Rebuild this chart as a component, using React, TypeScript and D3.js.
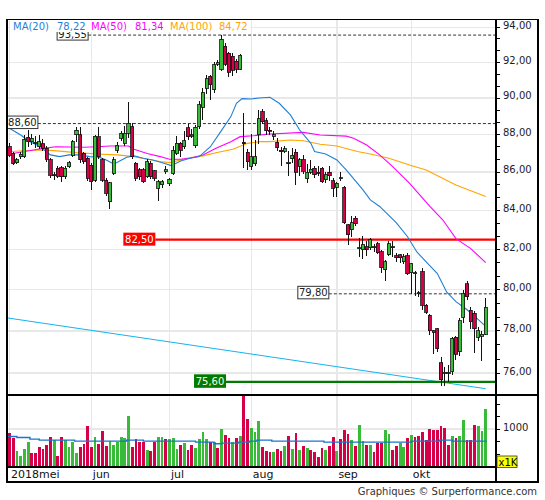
import React from "react";
import * as d3 from "d3";

// ---------- DATA ----------
const opens = [
  87.35, 86.99, 86.5, 86.8, 86.81, 87.85, 87.62, 87.55, 87.35, 87.5,
  87.26, 86.64, 85.86, 86.2, 86.24, 85.76, 86.29, 86.9, 87.98, 87.98,
  86.99, 86.73, 86.37, 85.58, 87.89, 86.64, 85.58, 84.45, 85.93, 87.17,
  87.8, 87.53, 88.07, 88.43, 86.46, 86.11, 86.11, 85.76, 86.46, 86.06,
  85.15, 85.32, 86.02, 85.41, 85.93, 86.99, 87.53, 87.35, 88.38, 88.0,
  87.4, 88.43, 89.5, 90.55, 91.2, 90.46, 91.93, 91.6, 92.9, 92.5,
  92.35, 92.05, 91.6, 87.6, 87.05, 86.3, 86.45, 88.0, 89.25, 88.75,
  88.25, 87.9, 87.6, 87.15, 87.1, 86.5, 86.7, 87.05, 86.3, 86.65,
  85.65, 86.0, 86.2, 86.0, 86.2, 85.6, 86.0, 85.55, 85.2, 85.65,
  85.2, 83.25, 83.0, 83.6, 82.05, 82.0, 82.15, 82.1, 82.1, 82.3,
  81.9, 81.0, 81.75, 82.15, 81.7, 81.75, 81.4, 81.7, 80.85, 80.8,
  79.85, 80.9, 79.25, 78.75, 78.0, 78.1, 76.5, 76.0, 76.0, 76.1,
  77.7, 77.0, 78.65, 80.3, 79.0, 78.85, 77.7, 77.75, 77.85,
];
const highs = [
  87.53, 87.08, 86.73, 87.05, 88.0, 88.25, 88.05, 87.9, 88.0, 87.75,
  87.4, 86.75, 86.02, 86.3, 86.3, 86.3, 86.6, 87.7, 88.43, 88.43,
  87.05, 86.81, 86.46, 88.0, 88.43, 86.75, 85.7, 85.5, 86.8, 87.6,
  88.2, 88.45, 89.8, 88.62, 86.55, 86.2, 86.2, 86.7, 86.6, 86.1,
  85.6, 85.6, 86.3, 85.7, 87.4, 87.9, 87.6, 88.2, 88.6, 88.3,
  88.5, 89.85, 90.55, 91.3, 91.3, 92.0, 92.15, 93.55, 93.1, 92.6,
  92.5, 92.2, 92.45, 89.2, 87.25, 88.05, 87.7, 89.35, 89.4, 88.9,
  88.4, 88.2, 87.8, 87.35, 87.4, 87.1, 87.3, 87.2, 86.75, 86.9,
  86.4, 86.65, 86.3, 86.3, 86.25, 86.0, 86.3, 85.7, 85.5, 86.0,
  85.25, 83.3, 83.7, 83.7, 82.6, 82.7, 82.45, 82.6, 82.3, 82.4,
  82.0, 81.5, 82.45, 82.45, 81.85, 81.8, 81.8, 81.85, 81.35, 80.95,
  79.95, 81.1, 79.3, 78.8, 78.05, 78.15, 76.75, 76.3, 76.4, 77.7,
  77.75, 78.6, 80.0, 80.45, 79.15, 78.95, 78.2, 78.0, 79.6,
];
const lows = [
  86.81, 86.37, 86.4, 86.7, 86.75, 87.35, 87.45, 87.3, 87.25, 87.1,
  86.55, 85.7, 85.58, 85.7, 85.5, 85.62, 86.2, 86.8, 87.62, 86.5,
  86.4, 85.55, 85.06, 85.5, 86.7, 85.45, 84.75, 84.05, 85.85, 87.0,
  87.65, 87.4, 87.8, 86.7, 85.55, 85.6, 85.4, 85.7, 85.65, 85.55,
  84.5, 85.15, 85.9, 85.25, 85.85, 86.9, 86.8, 87.2, 87.7, 87.8,
  87.3, 88.3, 88.8, 90.2, 89.9, 90.3, 91.8, 91.5, 91.8, 91.15,
  91.2, 91.4, 91.55, 86.2, 86.1, 86.1, 86.3, 87.5, 88.6, 88.0,
  88.0, 87.7, 87.1, 86.3, 87.0, 85.8, 86.5, 85.3, 85.8, 85.9,
  85.4, 85.9, 85.7, 85.8, 85.4, 85.4, 85.55, 84.7, 84.7, 85.55,
  83.3, 82.25, 82.65, 83.2, 81.65, 81.55, 81.7, 82.0, 81.9, 81.8,
  80.85, 80.45, 81.7, 81.65, 81.4, 81.35, 81.3, 80.75, 79.8, 79.7,
  79.65, 79.0, 78.8, 77.8, 76.9, 77.0, 75.4, 75.4, 75.6, 75.9,
  76.6, 76.8, 78.4, 79.5, 78.1, 76.95, 77.5, 76.55, 77.8,
];
const closes = [
  86.9, 86.43, 86.64, 86.95, 87.75, 87.62, 87.8, 87.6, 87.62, 87.26,
  86.68, 85.84, 85.82, 85.79, 85.76, 86.2, 86.5, 87.62, 88.25, 86.64,
  86.55, 85.67, 85.5, 87.92, 86.81, 85.58, 84.89, 85.44, 86.64, 87.44,
  88.07, 88.07, 88.62, 86.81, 85.67, 85.76, 85.5, 86.55, 85.76, 85.67,
  85.5, 85.5, 86.11, 85.62, 87.17, 87.53, 87.17, 87.67, 87.89, 87.9,
  88.4, 89.62, 90.3, 91.06, 90.75, 91.86, 91.97, 93.3, 91.9, 91.45,
  91.55, 91.6, 92.4, 87.5, 86.55, 86.8, 86.8, 88.85, 88.7, 88.2,
  88.2, 88.0, 87.3, 87.1, 87.25, 86.45, 86.9, 86.0, 86.65, 86.05,
  86.0, 86.15, 85.85, 85.95, 85.5, 85.85, 85.8, 85.15, 85.4, 85.7,
  83.35, 82.75, 83.35, 83.3, 82.1, 82.25, 82.0, 82.5, 82.15, 81.85,
  81.1, 81.4, 82.3, 82.1, 81.6, 81.6, 81.65, 80.8, 81.3, 80.85,
  79.8, 79.25, 78.9, 78.0, 77.95, 77.15, 75.7, 76.05, 76.05, 77.65,
  76.9, 78.5, 79.8, 79.65, 78.45, 78.1, 78.0, 77.85, 79.15,
];
const volumes = [
  935, 855, 642, 573, 685, 786, 621, 621, 717, 685,
  749, 866, 829, 573, 866, 829, 706, 786, 621, 717,
  765, 1042, 717, 866, 765, 973, 733, 813, 749, 786,
  877, 861, 1213, 717, 845, 786, 786, 669, 653, 786,
  877, 877, 845, 845, 861, 685, 749, 781, 669, 749,
  701, 845, 957, 845, 797, 797, 701, 1005, 909, 861,
  797, 861, 893, 1538, 1165, 1021, 957, 1133, 717, 653,
  637, 637, 685, 653, 733, 893, 685, 941, 669, 733,
  701, 669, 637, 557, 701, 669, 733, 877, 653, 845,
  989, 919, 829, 733, 1069, 813, 749, 749, 637, 781,
  781, 989, 925, 669, 733, 781, 717, 861, 909, 877,
  893, 957, 829, 1005, 978, 989, 1053, 1015, 749, 893,
  855, 893, 1149, 829, 829, 1069, 1042, 962, 1325,
];
// 1 = green (up), 0 = red (down)
const volumeUp = [
  0, 0, 1, 1, 1, 1, 0, 0, 0, 0,
  0, 0, 1, 0, 0, 1, 1, 1, 1, 0,
  0, 0, 0, 1, 0, 0, 0, 1, 1, 1,
  1, 1, 1, 0, 0, 0, 0, 1, 0, 0,
  1, 1, 0, 1, 1, 1, 0, 1, 0, 0,
  1, 1, 1, 1, 0, 1, 0, 1, 0, 0,
  1, 0, 1, 0, 0, 1, 1, 1, 0, 0,
  0, 1, 0, 0, 1, 0, 1, 0, 1, 0,
  1, 0, 0, 0, 0, 1, 0, 0, 1, 0,
  0, 0, 1, 0, 1, 1, 0, 1, 0, 0,
  0, 1, 1, 0, 0, 1, 1, 0, 1, 0,
  0, 0, 0, 0, 0, 0, 0, 0, 0, 1,
  0, 1, 1, 0, 0, 0, 1, 1, 1,
];
// moving averages: [candle index, value]
const ma20: [number, number][] = [
  [0, 88.35], [3, 87.98], [5.5, 87.62], [8, 87.39], [11, 86.91], [13.5, 86.82],
  [16, 86.91], [19, 86.91], [21.5, 86.82], [24, 86.79], [26, 86.64], [28, 86.43],
  [29, 86.52], [31.5, 86.79], [33.5, 86.86], [36, 86.73], [38.5, 86.64], [41.5, 86.47],
  [43.5, 86.34], [46, 86.59], [48.5, 86.73], [51, 86.82], [54, 87.35], [56.5, 88.08],
  [59.5, 88.98], [61, 89.71], [62.5, 89.97], [65, 89.95], [67, 90.0], [70, 90.04],
  [72.5, 89.71], [75.5, 89.07], [78, 88.25], [81, 87.53], [82, 87.09], [85, 86.96],
  [88, 86.64], [90.5, 86.11], [93.5, 85.42], [95, 85.06], [97, 84.54], [99.5, 84.2],
  [104, 83.35], [107, 82.65], [109.5, 81.88], [112, 81.38], [115, 80.8], [117.5, 79.89],
  [120, 79.42], [123, 79.02], [125.5, 78.63], [128, 78.22],
];
const ma50: [number, number][] = [
  [0, 86.96], [6.5, 87.17], [9, 87.26], [12.5, 87.35], [20, 87.32], [23.5, 87.35],
  [27, 87.39], [32, 87.39], [33.5, 87.21], [37, 86.99], [40.5, 86.82], [43, 86.68],
  [46, 86.68], [48.5, 86.73], [52, 86.91], [55.5, 87.26], [59.5, 87.62], [62, 87.89],
  [65.5, 87.94], [70, 88.03], [79, 88.12], [83.5, 87.98], [90.5, 87.92], [92.5, 87.8],
  [96, 87.44], [99.5, 86.91], [103, 86.29], [107.5, 85.42], [110.5, 84.75], [113, 84.2],
  [116.5, 83.5], [120, 82.55], [124, 82.05], [128, 81.34],
];
const ma100: [number, number][] = [
  [0, 87.09], [8, 87.17], [12, 87.14], [18, 87.03], [23.5, 86.96], [29, 86.91],
  [33.5, 86.82], [37, 86.68], [40.5, 86.56], [43, 86.5], [46, 86.64], [47.5, 86.73],
  [52, 86.86], [55.5, 87.03], [60, 87.21], [64, 87.53], [67.5, 87.62], [70, 87.62],
  [75.5, 87.71], [79, 87.67], [83.5, 87.48], [88, 87.39], [93.5, 87.09], [97, 86.96],
  [102, 86.73], [107.5, 86.37], [112, 86.11], [120, 85.32], [128, 84.72],
];
const volumeMA: [number, number][] = [
  [-0.5, 882], [2, 866], [5.5, 839], [8, 823], [17.5, 807], [31.5, 823], [36, 807],
  [50, 791], [55, 765], [57, 775], [61.5, 791], [64.5, 807], [66.5, 823], [70.5, 807],
  [84.5, 791], [108, 807], [115.5, 823], [119, 807], [128.3, 807],
];
const trendLine: [number, number][] = [[-0.7, 78.63], [128, 75.28]];
const dashedLevels = [93.55, 88.6, 79.8];
const dashedLabelAt = [12.8, -0.7, 77.5];
const resistance = 82.5;
const resistanceLabelAt = 30.6;
const support = 75.6;
const supportLabelAt = 49.6;
const monthLabels = ["2018mei", "jun", "jul", "aug", "sep", "okt"];
const monthStarts = [0, 22, 43, 65, 88, 108];
const priceTicks = [76, 78, 80, 82, 84, 86, 88, 90, 92, 94];
const volumeTicks = [600, 800, 1000, 1200, 1400];
const volumeLabelTicks = [1000];
const legendItems = [
  { name: "MA(20)", value: "78,22", color: "#1f7fd6" },
  { name: "MA(50)", value: "81,34", color: "#ff00ff" },
  { name: "MA(100)", value: "84,72", color: "#ffa500" },
];

// ---------- LAYOUT ----------
const W = 545;
const H = 500;
const L = 7;
const R = 496;
const OR = 538;
const T = 19.5;
const MB = 395;
const VB = 467;
const AB = 482;
const FONT = "DejaVu Sans, Verdana, sans-serif";
const GREEN = "#38bb38";
const RED = "#d60048";
const GRID = "#e8e8e8";

const fmt = (v: number) => d3.format(".2f")(v).replace(".", ",");

export default function App() {
  const x = d3.scaleLinear().domain([0, 128]).range([9.5, 485.7]);
  const y = d3.scaleLog().domain([74.99, 94.45]).range([MB, T]);
  const yv = d3.scaleLinear().domain([392, 1538]).range([VB, 395.5]);

  const line = d3
    .line<[number, number]>()
    .x((d) => x(d[0]))
    .y((d) => y(d[1]));
  const volLine = d3
    .line<[number, number]>()
    .x((d) => x(d[0]))
    .y((d) => yv(d[1]))
    .curve(d3.curveStepAfter);

  const minorTicks: number[] = [];
  for (let k = 0; k < priceTicks.length - 1; k++) {
    const a = priceTicks[k];
    const b = priceTicks[k + 1];
    minorTicks.push(a + (b - a) / 3, a + (2 * (b - a)) / 3);
  }

  const legendX = [13, 57, 91, 135, 170, 219];

  return (
    <svg
      width={W}
      height={H}
      style={{ position: "absolute", left: 0, top: 0, background: "#fff" }}
      fontFamily={FONT}
    >
      <defs>
        <clipPath id="mainClip">
          <rect x={L} y={T} width={R - L} height={MB - T} />
        </clipPath>
        <clipPath id="volClip">
          <rect x={L} y={MB} width={R - L} height={VB - MB} />
        </clipPath>
      </defs>
      <rect x={0} y={0} width={W} height={H} fill="#fff" />

      {/* grid */}
      <g shapeRendering="crispEdges">
        {priceTicks.map((p) => (
          <line key={"hg" + p} x1={L} x2={R} y1={y(p)} y2={y(p)} stroke={GRID} strokeWidth={1.5} />
        ))}
        {monthStarts.map((m) => (
          <g key={"vg" + m}>
            <line x1={x(m)} x2={x(m)} y1={T} y2={MB} stroke={GRID} strokeWidth={1.5} />
            <line x1={x(m)} x2={x(m)} y1={MB} y2={VB} stroke={GRID} strokeWidth={1.5} />
          </g>
        ))}
        {volumeLabelTicks.map((v) => (
          <line key={"vgh" + v} x1={L} x2={R} y1={yv(v)} y2={yv(v)} stroke={GRID} strokeWidth={1.5} />
        ))}
      </g>

      {/* main panel */}
      <g clipPath="url(#mainClip)">
        <path d={line(trendLine) || ""} fill="none" stroke="#14b4ee" strokeWidth={1} />
        {dashedLevels.map((lv, k) => (
          <line
            key={"dl" + lv}
            x1={x(dashedLabelAt[k]) + 31}
            x2={R}
            y1={y(lv)}
            y2={y(lv)}
            stroke="#333"
            strokeDasharray="3,2"
            strokeWidth={1}
          />
        ))}
        <line
          x1={x(resistanceLabelAt) + 32}
          x2={R}
          y1={y(resistance)}
          y2={y(resistance)}
          stroke="#ff0000"
          strokeWidth={2.2}
        />
        <line
          x1={x(supportLabelAt) + 32}
          x2={R}
          y1={y(support)}
          y2={y(support)}
          stroke="#007a00"
          strokeWidth={2.2}
        />
        <path d={line(ma100) || ""} fill="none" stroke="#ffa500" strokeWidth={1.1} />
        <path d={line(ma50) || ""} fill="none" stroke="#ff00ff" strokeWidth={1.1} />
        <path d={line(ma20) || ""} fill="none" stroke="#1f7fd6" strokeWidth={1.1} />

        {/* candles */}
        <g shapeRendering="crispEdges">
          {closes.map((c, i) => {
            const o = opens[i];
            const up = c >= o;
            const cx = x(i);
            const top = y(Math.max(o, c));
            const bot = y(Math.min(o, c));
            return (
              <g key={"c" + i}>
                <line x1={cx} x2={cx} y1={y(highs[i])} y2={y(lows[i])} stroke="#111" strokeWidth={1} />
                <rect
                  x={cx - 1.6}
                  y={top}
                  width={3.2}
                  height={Math.max(1.2, bot - top)}
                  fill={up ? GREEN : RED}
                  stroke="#111"
                  strokeWidth={0.8}
                />
              </g>
            );
          })}
        </g>

        {/* level labels */}
        {dashedLevels.map((lv, k) => (
          <g key={"dlab" + lv}>
            <rect
              x={x(dashedLabelAt[k])}
              y={y(lv) - 7.5}
              width={31}
              height={12.5}
              fill="#fff"
              stroke="#333"
              strokeWidth={1}
            />
            <text
              x={x(dashedLabelAt[k]) + 15.5}
              y={y(lv) + 2.6}
              fontSize={10}
              textAnchor="middle"
              fill="#222"
            >
              {fmt(lv)}
            </text>
          </g>
        ))}
        <rect
          x={x(resistanceLabelAt)}
          y={y(resistance) - 7}
          width={32}
          height={13}
          fill="#ff0000"
        />
        <text
          x={x(resistanceLabelAt) + 16}
          y={y(resistance) + 3.6}
          fontSize={10}
          textAnchor="middle"
          fill="#fff"
        >
          {fmt(resistance)}
        </text>
        <rect x={x(supportLabelAt)} y={y(support) - 7.5} width={32} height={13.5} fill="#007a00" />
        <text
          x={x(supportLabelAt) + 16}
          y={y(support) + 3.6}
          fontSize={10}
          textAnchor="middle"
          fill="#f4ffe0"
        >
          {fmt(support)}
        </text>
      </g>

      {/* legend (its white band covers the top of the 93,55 label, as in the original) */}
      <rect x={10} y={20.5} width={240} height={11.5} fill="#fff" />
      {legendItems.map((it, k) => (
        <g key={"lg" + k}>
          <text x={legendX[2 * k]} y={30.2} fontSize={10} fill={it.color}>
            {it.name}
          </text>
          <text x={legendX[2 * k + 1]} y={30.2} fontSize={10} fill={it.color}>
            {it.value}
          </text>
        </g>
      ))}

      {/* volume panel */}
      <g clipPath="url(#volClip)">
        <g shapeRendering="crispEdges">
          {volumes.map((v, i) => (
            <rect
              key={"v" + i}
              x={x(i) - 1.4}
              y={yv(v)}
              width={2.8}
              height={VB - yv(v)}
              fill={volumeUp[i] ? GREEN : RED}
            />
          ))}
        </g>
        <path d={volLine(volumeMA) || ""} fill="none" stroke="#1a74cc" strokeWidth={1.4} />
      </g>

      {/* frames */}
      <g shapeRendering="crispEdges" stroke="#000" fill="none">
        <rect x={L} y={T} width={OR - L} height={AB - T} strokeWidth={1.6} />
        <line x1={R} x2={R} y1={T} y2={AB} strokeWidth={1.4} />
        <line x1={L} x2={OR} y1={MB} y2={MB} strokeWidth={1.4} />
        <line x1={L} x2={R} y1={VB} y2={VB} strokeWidth={1.4} />
      </g>

      {/* price axis */}
      <g shapeRendering="crispEdges">
        {priceTicks.map((p) => (
          <line key={"pt" + p} x1={R} x2={R + 4} y1={y(p)} y2={y(p)} stroke="#000" strokeWidth={1} />
        ))}
        {minorTicks.map((p, k) => (
          <line key={"mt" + k} x1={R} x2={R + 4} y1={y(p)} y2={y(p)} stroke="#000" strokeWidth={1} />
        ))}
        {volumeTicks.map((v) => (
          <line key={"vt" + v} x1={R} x2={R + 4} y1={yv(v)} y2={yv(v)} stroke="#000" strokeWidth={1} />
        ))}
      </g>
      {priceTicks.map((p) => (
        <text key={"pl" + p} x={503} y={y(p) + 1.3} fontSize={10} fill="#1c1c2a">
          {fmt(p)}
        </text>
      ))}
      {volumeLabelTicks.map((v) => (
        <text key={"vl" + v} x={503} y={yv(v) + 2} fontSize={10} fill="#1c1c2a">
          {v}
        </text>
      ))}
      <rect x={497} y={456} width={20} height={11.5} fill="#ffff00" stroke="#333" strokeWidth={0.8} />
      <text x={498.5} y={465.5} fontSize={10} fill="#000">
        x1K
      </text>

      {/* month labels */}
      {monthStarts.map((m, k) => (
        <text key={"ml" + m} x={x(m) + 1.5} y={478} fontSize={11} fill="#111">
          {monthLabels[k]}
        </text>
      ))}

      <text x={537} y={495} fontSize={10} textAnchor="end" fill="#333">
        Graphiques © Surperformance.com
      </text>
    </svg>
  );
}
